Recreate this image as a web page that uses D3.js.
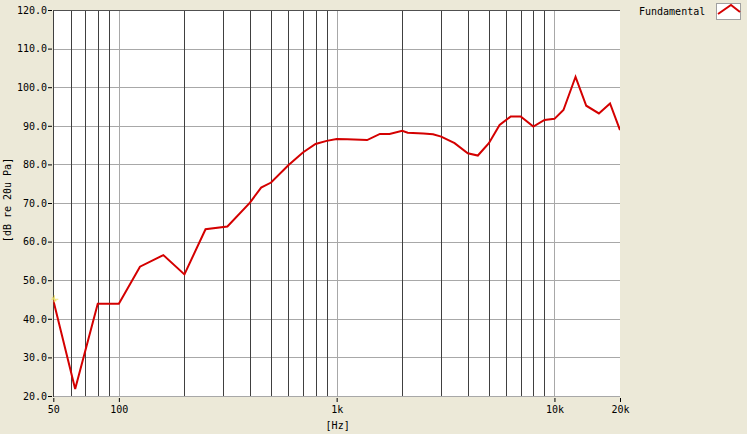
<!DOCTYPE html>
<html>
<head>
<meta charset="utf-8">
<script src="https://cdn.jsdelivr.net/npm/d3@7"></script>
<style>
  html, body { margin: 0; padding: 0; background: #ECE9D8; }
  svg { display: block; }
  text { font-family: "DejaVu Sans Mono", "Liberation Mono", monospace; font-size: 10px; fill: #000; }
</style>
</head>
<body>
<svg id="chart" width="747" height="434"></svg>
<script>
// ---- data ----
const freqs = [50, 63, 80, 100, 125, 160, 200, 250, 315, 400, 450, 500, 600, 700, 800, 900, 1000, 1120, 1380, 1580, 1750, 2000, 2120, 2500, 2770, 3020, 3480, 4000, 4450, 5000, 5600, 6300, 7000, 8000, 9000, 10000, 11000, 12500, 14000, 16000, 18000, 20000];
const fundamental = [44.8, 21.8, 43.9, 43.9, 53.5, 56.5, 51.5, 63.2, 63.9, 70.1, 74.0, 75.3, 79.8, 83.1, 85.3, 86.1, 86.6, 86.5, 86.3, 87.9, 87.9, 88.7, 88.2, 88.0, 87.8, 87.2, 85.5, 82.9, 82.3, 85.5, 90.2, 92.4, 92.4, 89.8, 91.5, 91.8, 94.1, 102.7, 95.2, 93.2, 95.8, 88.9];
const yTicks = [20, 30, 40, 50, 60, 70, 80, 90, 100, 110, 120];
const xTickValues = [50, 100, 1000, 10000, 20000];
const xTickLabels = ["50", "100", "1k", "10k", "20k"];
const gridMinor = [60, 70, 80, 90, 200, 300, 400, 500, 600, 700, 800, 900, 2000, 3000, 4000, 5000, 6000, 7000, 8000, 9000];
const gridDecade = [100, 1000, 10000];
const seriesName = "Fundamental";
const xTitle = "[Hz]";
const yTitle = "[dB re 20u Pa]";

// ---- layout ----
const L = 53.3, R = 620, T = 10, B = 396;
const svg = d3.select("#chart");
const x = d3.scaleLog().domain([50, 20000]).range([L, R]);
const y = d3.scaleLinear().domain([20, 120]).range([B, T]);

// plot background
svg.append("rect").attr("x", L).attr("y", T).attr("width", R - L).attr("height", B - T).attr("fill", "#fff");

// horizontal grid
svg.append("g").selectAll("line").data(yTicks).join("line")
  .attr("x1", L).attr("x2", R)
  .attr("y1", d => Math.round(y(d)) + 0.5).attr("y2", d => Math.round(y(d)) + 0.5)
  .attr("stroke", "#a8a8a8").attr("stroke-width", 1);

// vertical grid
svg.append("g").selectAll("line").data(gridMinor).join("line")
  .attr("x1", d => Math.round(x(d)) + 0.5).attr("x2", d => Math.round(x(d)) + 0.5)
  .attr("y1", T).attr("y2", B)
  .attr("stroke", "#404040").attr("stroke-width", 1);
svg.append("g").selectAll("line").data(gridDecade).join("line")
  .attr("x1", d => Math.round(x(d)) + 0.5).attr("x2", d => Math.round(x(d)) + 0.5)
  .attr("y1", T).attr("y2", B)
  .attr("stroke", "#a8a8a8").attr("stroke-width", 1);

// borders
svg.append("line").attr("x1", Math.round(L) + 0.5).attr("x2", Math.round(L) + 0.5).attr("y1", T).attr("y2", B + 1)
  .attr("stroke", "#404040");
svg.append("line").attr("x1", L).attr("x2", R).attr("y1", T + 0.5).attr("y2", T + 0.5)
  .attr("stroke", "#505050");

// clip
svg.append("clipPath").attr("id", "clip").append("rect")
  .attr("x", L).attr("y", T).attr("width", R - L).attr("height", B - T);

// series
const data = freqs.map((f, i) => [f, fundamental[i]]);
svg.append("path").datum(data)
  .attr("clip-path", "url(#clip)")
  .attr("fill", "none").attr("stroke", "#d40000").attr("stroke-width", 2)
  .attr("stroke-linejoin", "miter")
  .attr("d", d3.line().x(d => x(d[0])).y(d => y(d[1])));

// small yellow cursor marker at the start
const sx = x(freqs[0]) + 1, sy = y(fundamental[0]) - 1;
svg.append("path")
  .attr("d", `M${sx - 3},${sy} L${sx + 4},${sy} M${sx},${sy - 4} L${sx},${sy + 3} M${sx - 2},${sy - 2} L${sx + 2},${sy + 2}`)
  .attr("stroke", "#f0e060").attr("stroke-width", 1.2).attr("opacity", 0.85);

// y axis
const yAxis = d3.axisLeft(y).tickValues(yTicks).tickFormat(d3.format(".1f")).tickSize(4).tickPadding(1);
const gy = svg.append("g").attr("transform", "translate(52,0)").call(yAxis);
gy.select(".domain").remove();
gy.selectAll(".tick line").attr("stroke", "#000");
gy.selectAll("text").style("font-family", '"DejaVu Sans Mono", monospace').style("font-size", "10px");

// x axis
const xAxis = d3.axisBottom(x).tickValues(xTickValues).tickFormat((d, i) => xTickLabels[i]).tickSize(4).tickPadding(4);
const gx = svg.append("g").attr("transform", "translate(0,398)").call(xAxis);
gx.select(".domain").remove();
gx.selectAll(".tick line").attr("stroke", "#000");
gx.selectAll("text").style("font-family", '"DejaVu Sans Mono", monospace').style("font-size", "10px");

// axis titles
svg.append("text").attr("x", x(1000) + 1).attr("y", 429).attr("text-anchor", "middle").text(xTitle);
svg.append("text").attr("transform", "translate(11,200) rotate(-90)").attr("text-anchor", "middle").text(yTitle);

// legend
svg.append("text").attr("x", 639).attr("y", 15).text(seriesName);
svg.append("rect").attr("x", 716.5).attr("y", 3.5).attr("width", 24).attr("height", 16)
  .attr("fill", "#fff").attr("stroke", "#a0a0a0");
svg.append("path").attr("d", "M718,14 L731,5 L740,12")
  .attr("fill", "none").attr("stroke", "#d40000").attr("stroke-width", 2);
</script>
</body>
</html>
